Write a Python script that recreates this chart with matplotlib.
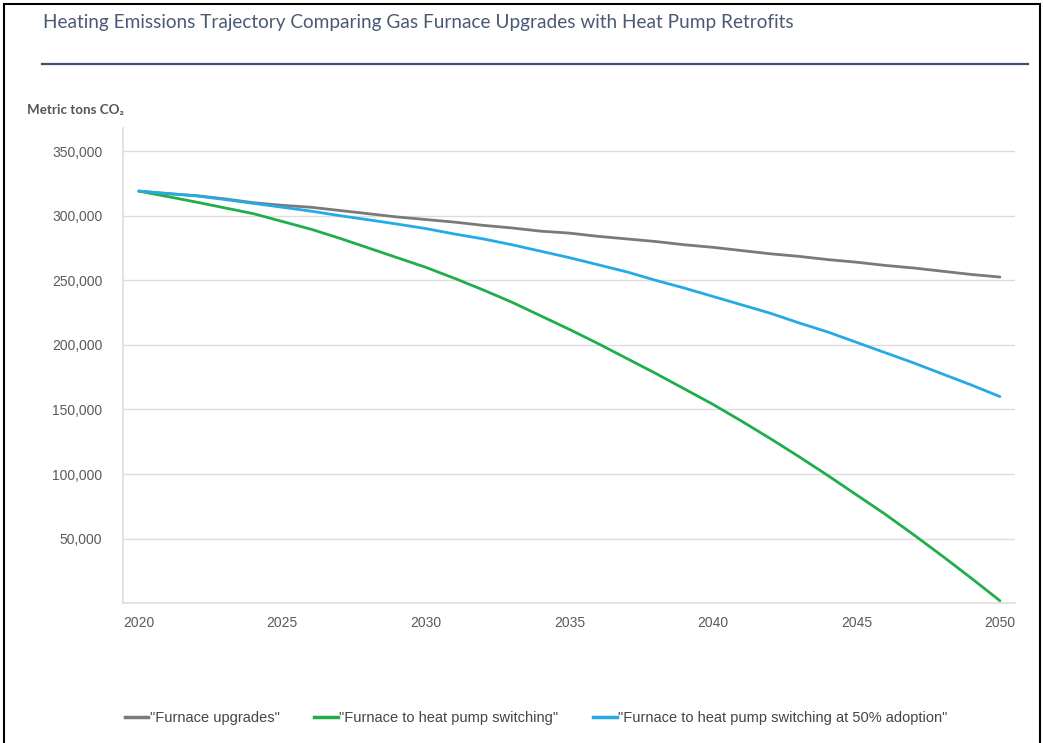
import matplotlib
matplotlib.use('Agg')
import matplotlib.pyplot as plt
from matplotlib.lines import Line2D
from matplotlib.patches import Rectangle
from matplotlib.ticker import FuncFormatter

# annual values, metric tons CO2
years = list(range(2020, 2051))
furnace_upgrades = [319000, 317000, 315500, 313000, 310000, 308000, 306500, 304000, 301500, 299000,
                    297000, 295000, 292500, 290500, 288000, 286500, 284000, 282000, 280000, 277500,
                    275500, 273000, 270500, 268500, 266000, 264000, 261500, 259500, 257000, 254500,
                    252500]
heat_pump_switching = [319000, 314800, 310500, 306000, 301500, 295500, 289500, 282500, 275000, 267500,
                       260000, 251500, 242500, 233000, 222500, 212000, 201000, 189500, 178000, 166000,
                       154000, 141000, 127500, 113500, 99000, 84000, 69000, 53000, 36500, 19500,
                       2000]
heat_pump_50pct = [319000, 317200, 315300, 312500, 309500, 306500, 303500, 300000, 296800, 293500,
                   290000, 285800, 282000, 277500, 272500, 267500, 262000, 256500, 250000, 244000,
                   237500, 231000, 224500, 217000, 210000, 202000, 194000, 186000, 177500, 169000,
                   160000]

series_labels = ['"Furnace upgrades"', '"Furnace to heat pump switching"',
                 '"Furnace to heat pump switching at 50% adoption"']
colors = ['#7a7a7a', '#1fae4b', '#25aae6']
y_ticks = [50000, 100000, 150000, 200000, 250000, 300000, 350000]
x_ticks = [2020, 2025, 2030, 2035, 2040, 2045, 2050]

title = 'Heating Emissions Trajectory Comparing Gas Furnace Upgrades with Heat Pump Retrofits'

plt.rcParams['font.family'] = ['Liberation Sans', 'DejaVu Sans']

fig = plt.figure(figsize=(10.43, 7.43), dpi=100)
ax = fig.add_axes([0.118, 0.188, 0.855, 0.640])

for vals, lab, c in zip([furnace_upgrades, heat_pump_switching, heat_pump_50pct], series_labels, colors):
    ax.plot(years, vals, color=c, lw=2.0, label=lab, solid_capstyle='round')

ax.set_xlim(2019.45, 2050.52)
ax.set_ylim(0, 368000)
ax.set_yticks(y_ticks)
ax.set_xticks(x_ticks)
ax.yaxis.set_major_formatter(FuncFormatter(lambda v, p: f'{int(v):,}'))
ax.tick_params(axis='both', length=0, labelsize=10, colors='#5a5a5a')
ax.tick_params(axis='y', pad=15)
ax.tick_params(axis='x', pad=9)
ax.grid(axis='y', color='#dddddd', lw=1)
ax.set_axisbelow(True)
for s in ['top', 'right']:
    ax.spines[s].set_visible(False)
for s in ['left', 'bottom']:
    ax.spines[s].set_color('#dddddd')
    ax.spines[s].set_linewidth(1.2)

# title and rule
fig.text(0.041, 0.970, title, fontsize=13.7, color='#4a5a75', family=['Lato', 'DejaVu Sans'],
         ha='left', va='center')
fig.add_artist(Line2D([0.040, 0.986], [0.914, 0.914], color='#3e506a', lw=1.6))

# unit label
fig.text(0.026, 0.852, 'Metric tons CO\u2082', fontsize=9.6, color='#555555', fontweight='bold',
         family=['Lato', 'DejaVu Sans'], ha='left', va='center')

# legend
handles = [Line2D([0], [0], color=c, lw=2.5) for c in colors]
fig.legend(handles, series_labels, loc='center', bbox_to_anchor=(0.514, 0.033), ncol=3,
           frameon=False, fontsize=10.5, handlelength=1.6, handletextpad=0.1, columnspacing=2.4,
           labelcolor='#444444')

# outer frame
fig.add_artist(Rectangle((0.004, -0.02), 0.993, 1.015, transform=fig.transFigure,
                         fill=False, edgecolor='black', lw=1.5))

fig.savefig('out.png', dpi=100)
